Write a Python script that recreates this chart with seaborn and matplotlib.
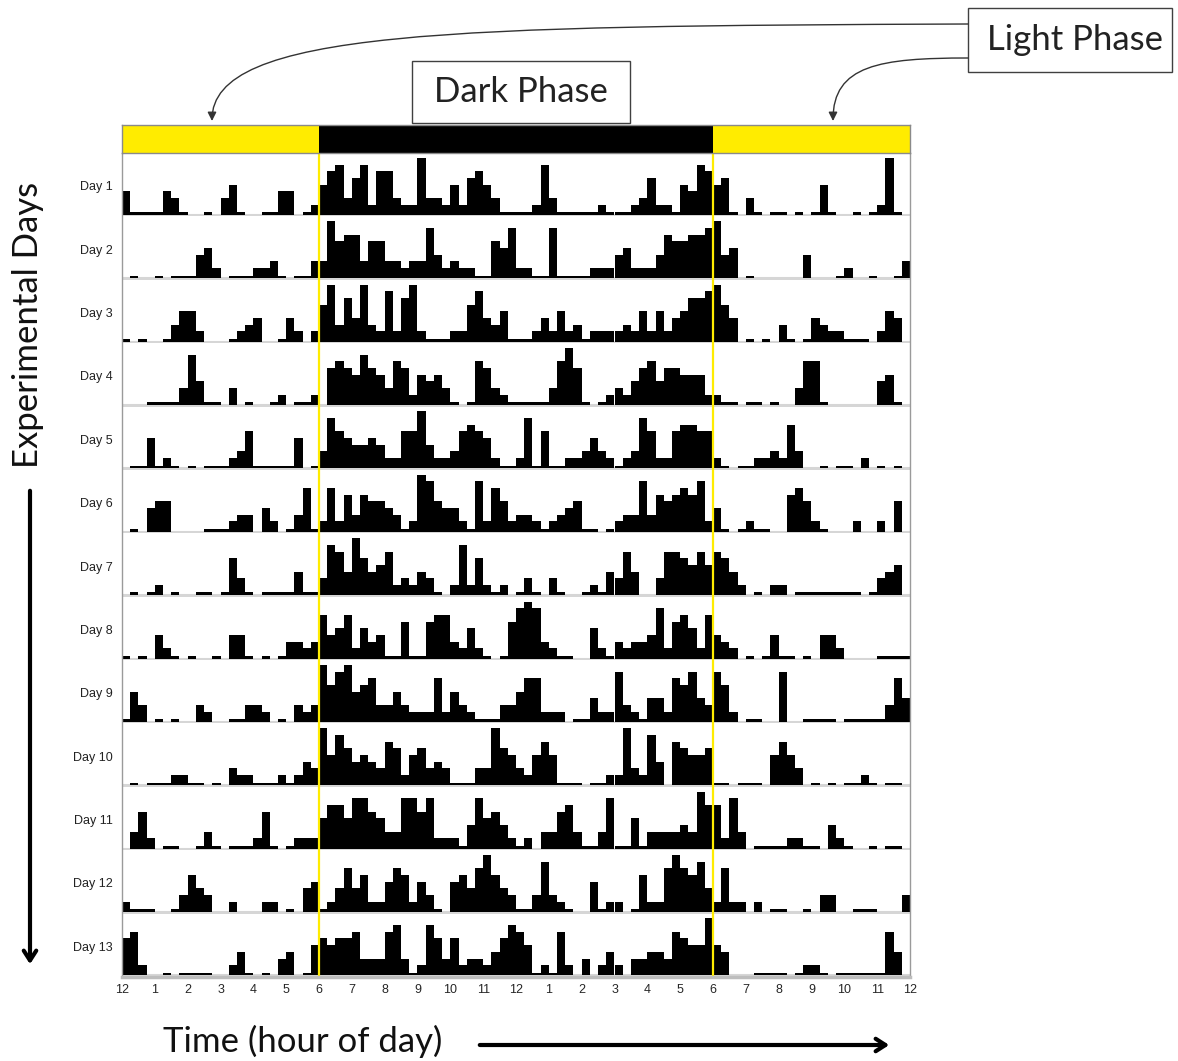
import numpy as np
import pandas as pd
import matplotlib
matplotlib.use("Agg")
import matplotlib.pyplot as plt
from matplotlib.patches import Rectangle, FancyArrowPatch
from matplotlib.path import Path
import seaborn as sns

sns.set_style("white")
plt.rcParams['font.family'] = ['Lato', 'DejaVu Sans']

# ---------------- data ----------------
# activity level per 15-min bin (code 0-9), 4 bins per hour, hours starting at 12 noon
day01 = "4111 1431 0010 3510 0114 4012 5783 6827 7322 9332 5267 5311 1128 3111 1121 1123 6221 5487 5610 3101 1010 1510 0101 2910"
day02 = "0100 1011 1452 0111 2231 0113 3967 7366 3323 3842 3221 1658 2211 8111 1222 4522 2476 6778 9450 1000 0004 0001 2001 0013"
day03 = "1010 0135 5200 0123 4001 4202 6937 4932 8279 2111 2268 4351 1124 2523 1222 2325 2524 5778 9640 1010 3101 4322 1110 2540"
day04 = "0001 1113 8411 0301 0012 0112 0676 5865 3762 5453 1017 6321 1111 3796 1012 3246 7466 5552 2110 1101 0037 7100 0000 4510"
day05 = "0115 1210 1011 1236 1111 1501 3865 4454 2266 9422 3676 5211 2816 1122 3532 1238 6226 7766 2101 1223 2730 0101 1020 1010"
day06 = "0104 5500 0011 1233 0420 1371 2726 3655 4312 9854 4218 2752 3321 2345 1101 2338 3656 7682 4101 2110 0675 2100 0200 2050"
day07 = "0101 2010 0110 1631 0111 1411 3874 9645 7232 4310 2826 2120 1310 3100 1214 3740 0377 6575 7642 0102 2011 1111 1101 3450"
day08 = "1010 4210 1001 0441 0101 3323 7457 2534 1161 1677 3252 1016 8983 2110 0521 3233 4826 7527 4320 1014 1101 0442 0000 1111"
day09 = "1530 1010 0320 0113 3201 0323 9689 5673 3532 2272 5321 1133 5772 2201 1422 8321 4427 6843 8620 1100 8001 1110 1111 1374"
day10 = "0101 1122 1101 0322 1112 1243 9586 4543 7625 6343 1113 3965 3257 5111 0112 2932 8407 6556 1101 1105 7530 1010 1121 0110"
day11 = "0362 0110 0131 0111 2610 1222 5775 8865 3388 6822 2148 5642 1203 3673 1138 1151 3333 4397 7283 0111 1221 1042 1001 0110"
day12 = "2111 0013 6430 0200 0220 1045 1247 4622 5762 5310 5647 9643 1138 3210 0512 2016 2279 7684 2722 0201 1001 0330 0111 0003"
day13 = "6720 0101 1110 0241 0103 4015 6566 7333 7831 2863 6233 2468 7512 1720 3024 2033 4437 6559 5400 0111 1012 2101 1111 1740"
days = [day01, day02, day03, day04, day05, day06, day07, day08, day09, day10, day11, day12, day13]
# activity count represented by each level code
level_counts = [0, 0.45, 1.7, 2.8, 3.9, 5.0, 6.1, 7.2, 8.3, 9.4]
day_labels = ["Day 1", "Day 2", "Day 3", "Day 4", "Day 5", "Day 6", "Day 7",
              "Day 8", "Day 9", "Day 10", "Day 11", "Day 12", "Day 13"]
hour_labels = ["12", "1", "2", "3", "4", "5", "6", "7", "8", "9", "10", "11",
               "12", "1", "2", "3", "4", "5", "6", "7", "8", "9", "10", "11", "12"]
phase_start = [0, 6, 18]
phase_end = [6, 18, 24]
phase_color = ["#FFEC00", "#000000", "#FFEC00"]

# ---------------- layout ----------------
W, H = 1178, 1061
fig = plt.figure(figsize=(W / 100, H / 100), dpi=100)
fig.patch.set_facecolor("white")


def fx(px):
    return px / W


def fy(py):
    return 1 - py / H


L, R = 122, 910
ROW_TOP, ROW_BOT = 153, 977
row_h = (ROW_BOT - ROW_TOP) / len(days)
small = ['Liberation Sans', 'DejaVu Sans']

for i, s in enumerate(days):
    vals = [level_counts[int(c)] for c in s if c.isdigit()]
    df = pd.DataFrame({"hour": np.arange(len(vals)) * 0.25 + 0.125, "activity": vals})
    y_bottom = ROW_TOP + (i + 1) * row_h
    ax = fig.add_axes([fx(L), fy(y_bottom), fx(R) - fx(L), row_h / H])
    ax.axhline(0, color="#d6d6d6", lw=2.2, zorder=0)
    sns.histplot(data=df, x="hour", weights="activity", bins=96, binrange=(0, 24),
                 color="black", alpha=1, linewidth=0, element="bars", ax=ax)
    ax.set_xlim(0, 24)
    ax.set_ylim(-0.25, 10.2)
    ax.set_xticks([])
    ax.set_yticks([])
    ax.set_xlabel("")
    ax.set_ylabel("")
    for sp in ax.spines.values():
        sp.set_visible(False)
    ax.patch.set_alpha(0)
    fig.text(fx(113), fy(y_bottom - row_h * 0.46), day_labels[i], ha="right", va="center",
             fontsize=9, family=small, color="#222222")

# overlay frame with yellow phase lines and hour axis
ov = fig.add_axes([fx(L), fy(ROW_BOT), fx(R) - fx(L), (ROW_BOT - ROW_TOP) / H])
ov.patch.set_alpha(0)
ov.set_xlim(0, 24)
ov.set_ylim(0, 1)
for h in [6, 18]:
    ov.axvline(h, color="#FFEC00", lw=1.6)
ov.set_yticks([])
ov.set_xticks(range(25))
ov.set_xticklabels(hour_labels, fontsize=9, family=small)
ov.tick_params(axis="x", length=3, width=0.8, color="#888888", pad=2)
for k, sp in ov.spines.items():
    sp.set_color("#9a9a9a")
    sp.set_linewidth(1.0)
ov.spines["top"].set_visible(False)
ov.spines["bottom"].set_linewidth(2.5)
ov.spines["bottom"].set_color("#bdbdbd")

# light/dark header bar
hb = fig.add_axes([fx(L), fy(153), fx(R) - fx(L), 28 / H])
hb.barh([0] * 3, [e - s for s, e in zip(phase_start, phase_end)], left=phase_start,
        color=phase_color, height=1.0, linewidth=0)
hb.set_xlim(0, 24)
hb.set_ylim(-0.5, 0.5)
hb.set_xticks([])
hb.set_yticks([])
for sp in hb.spines.values():
    sp.set_color("#8a8a8a")
    sp.set_linewidth(1.0)

# annotation layer in pixel coordinates
an = fig.add_axes([0, 0, 1, 1])
an.set_xlim(0, W)
an.set_ylim(H, 0)
an.axis("off")
an.patch.set_alpha(0)

an.add_patch(Rectangle((412, 61), 218, 62, facecolor="white", edgecolor="#404040", lw=1.0))
an.text(521, 92, "Dark Phase", ha="center", va="center", fontsize=25, color="#222222")
an.add_patch(Rectangle((968, 8), 204, 64, facecolor="white", edgecolor="#404040", lw=1.0))
an.text(1075, 40, "Light Phase", ha="center", va="center", fontsize=25, color="#222222")

p1 = Path([(968, 24), (450, 26), (212, 30), (212, 121)],
          [Path.MOVETO, Path.CURVE4, Path.CURVE4, Path.CURVE4])
an.add_patch(FancyArrowPatch(path=p1, arrowstyle="-|>", mutation_scale=13, lw=1.0, color="#333333"))
p2 = Path([(968, 58), (880, 58), (833, 65), (833, 121)],
          [Path.MOVETO, Path.CURVE4, Path.CURVE4, Path.CURVE4])
an.add_patch(FancyArrowPatch(path=p2, arrowstyle="-|>", mutation_scale=13, lw=1.0, color="#333333"))

an.text(163, 1041, "Time (hour of day)", ha="left", va="center", fontsize=25, color="#111111")
an.annotate("", xy=(892, 1045), xytext=(477, 1045),
            arrowprops=dict(arrowstyle="->,head_length=0.7,head_width=0.45", lw=3, color="black"))
an.text(28, 325, "Experimental Days", ha="center", va="center", rotation=90, fontsize=25,
        color="#111111")
an.annotate("", xy=(30, 967), xytext=(30, 488),
            arrowprops=dict(arrowstyle="->,head_length=0.7,head_width=0.45", lw=3, color="black"))

fig.savefig("out.png", dpi=100, facecolor="white")
